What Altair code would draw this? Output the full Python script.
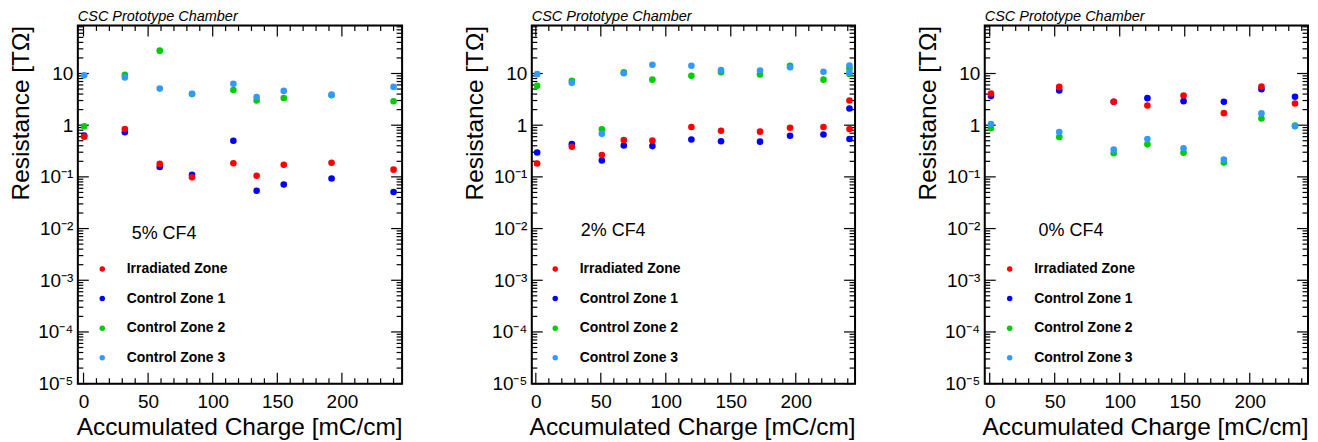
import altair as alt
import pandas as pd

FONT = "Liberation Sans"

zones = ["Irradiated Zone", "Control Zone 1", "Control Zone 2", "Control Zone 3"]
zone_colors = ["#ff0000", "#0000ff", "#00cc00", "#3399ff"]
draw_order = ["Control Zone 1", "Irradiated Zone", "Control Zone 2", "Control Zone 3"]

# ---- 5% CF4 ----
charge_5 = [0.5, 32, 59, 84, 116, 134, 155, 192, 240]
irr_5 = [0.60, 0.84, 0.178, 0.098, 0.183, 0.105, 0.172, 0.188, 0.138]
cz1_5 = [0.63, 0.73, 0.155, 0.11, 0.50, 0.054, 0.071, 0.093, 0.051]
cz2_5 = [0.95, 9.4, 27.7, 4.0, 4.8, 3.0, 3.35, 3.8, 2.9]
cz3_5 = [9.2, 8.4, 5.1, 4.05, 6.3, 3.5, 4.6, 3.9, 5.5]

# ---- 2% CF4 ----
charge_2 = [1.0, 27.7, 50.8, 67.7, 89.7, 119.7, 142.5, 172.5, 195.6, 221.3, 241.3, 241.3]
irr_2 = [0.181, 0.383, 0.264, 0.516, 0.507, 0.92, 0.78, 0.75, 0.89, 0.92, 3.0, 0.84]
cz1_2 = [0.297, 0.43, 0.207, 0.405, 0.394, 0.53, 0.49, 0.48, 0.625, 0.66, 2.1, 0.54]
cz2_2 = [5.8, 7.2, 0.83, 10.5, 7.6, 9.0, 10.6, 9.6, 14.1, 7.6, 12.7, 9.8]
cz3_2 = [9.7, 6.6, 0.68, 10.1, 14.8, 14.1, 11.6, 11.4, 13.2, 10.8, 14.3, 10.5]

# ---- 0% CF4 ----
charge_0 = [1.0, 53.5, 95.4, 121.3, 149.1, 180.1, 209.0, 234.8]
irr_0 = [4.1, 5.5, 2.84, 2.4, 3.76, 1.71, 5.6, 2.63]
cz1_0 = [3.65, 4.7, 2.84, 3.33, 2.92, 2.84, 4.98, 3.55]
cz2_0 = [0.87, 0.59, 0.286, 0.426, 0.294, 0.189, 1.35, 0.98]
cz3_0 = [1.05, 0.74, 0.336, 0.54, 0.357, 0.216, 1.69, 0.95]

panel_labels = ["5% CF4", "2% CF4", "0% CF4"]
label_x = [37.3, 34.6, 37.6]
label_y = [0.0062, 0.0072, 0.0072]
x_domains = [[-4.4, 246.6], [-3.1, 245.6], [-3.8, 244.8]]
panel_widths = [325, 324, 324]
legend_x = [17.5, 16.5, 18.0]

Y_DOMAIN = [1e-5, 85]
y_major = [1e-5, 1e-4, 1e-3, 1e-2, 1e-1, 1, 10]
y_major_labels = ["10⁻⁵", "10⁻⁴", "10⁻³", "10⁻²", "10⁻¹", "1", "10"]
decades = [1e-5, 1e-4, 1e-3, 1e-2, 1e-1, 1, 10]
minor_k = [2, 3, 4, 5, 6, 7, 8, 9]
y_minor = [k * d for d in decades for k in minor_k if k * d <= 85]
x_major = [0, 50, 100, 150, 200]
x_minor = [10, 20, 30, 40, 60, 70, 80, 90, 110, 120, 130, 140, 160, 170, 180, 190, 210, 220, 230, 240]

H = 359
MAJ = 11
MIN = 5.5

series = [
    {"Irradiated Zone": irr_5, "Control Zone 1": cz1_5, "Control Zone 2": cz2_5, "Control Zone 3": cz3_5},
    {"Irradiated Zone": irr_2, "Control Zone 1": cz1_2, "Control Zone 2": cz2_2, "Control Zone 3": cz3_2},
    {"Irradiated Zone": irr_0, "Control Zone 1": cz1_0, "Control Zone 2": cz2_0, "Control Zone 3": cz3_0},
]
charges = [charge_5, charge_2, charge_0]

label_js = "[" + ",".join("'" + s + "'" for s in y_major_labels) + "]"


def make_panel(i):
    W = panel_widths[i]
    rows = []
    for oi, z in enumerate(draw_order):
        for xv, yv in zip(charges[i], series[i][z]):
            rows.append({"charge": xv, "R": yv, "zone": z, "ord": oi})
    df = pd.DataFrame(rows)

    xs = alt.Scale(domain=x_domains[i], nice=False, zero=False)
    ys = alt.Scale(type="log", domain=Y_DOMAIN, nice=False)
    xaxis = alt.Axis(
        values=x_major, domain=False, ticks=False, grid=False,
        labelFont=FONT, labelFontSize=19, labelColor="black", labelPadding=9,
        labelFlush=False, labelOverlap=False,
        title="Accumulated Charge [mC/cm]", titleFont=FONT, titleFontSize=24.5,
        titleFontWeight="normal", titleColor="black",
        titleX=W, titleY=51, titleAlign="right", titleBaseline="alphabetic",
    )
    yaxis = alt.Axis(
        values=y_major, domain=False, ticks=False, grid=False,
        labelExpr=label_js + "[round(log(datum.value)/LN10)+5]",
        labelFont=FONT, labelFontSize=19, labelColor="black", labelPadding=5,
        labelFlush=False, labelOverlap=False,
        title="Resistance [TΩ]", titleFont=FONT, titleFontSize=24.5,
        titleFontWeight="normal", titleColor="black",
        titleX=-44, titleY=0, titleAngle=270, titleAlign="right", titleBaseline="bottom",
    )

    pts = alt.Chart(df).mark_circle(size=44, opacity=1).encode(
        x=alt.X("charge:Q", scale=xs, axis=xaxis),
        y=alt.Y("R:Q", scale=ys, axis=yaxis),
        color=alt.Color(
            "zone:N",
            scale=alt.Scale(domain=zones, range=zone_colors),
            title=None,
            legend=alt.Legend(
                orient="none", legendX=legend_x[i], legendY=237, padding=0,
                symbolType="circle", symbolSize=30, symbolOpacity=1, symbolStrokeWidth=0,
                labelFont=FONT, labelFontSize=14, labelFontWeight="bold", labelColor="black",
                labelOffset=17.5, rowPadding=15.7,
            ),
        ),
        order=alt.Order("ord:Q"),
    )

    xmaj = pd.DataFrame({"v": x_major})
    xmin = pd.DataFrame({"v": x_minor})
    ymaj = pd.DataFrame({"v": y_major})
    ymin = pd.DataFrame({"v": y_minor})

    def xt(d, y0, y1):
        return alt.Chart(d).mark_rule(color="black", strokeWidth=1.2).encode(
            x=alt.X("v:Q", scale=xs, axis=xaxis),
            y=alt.value(y0), y2=alt.value(y1))

    def yt(d, x0, x1):
        return alt.Chart(d).mark_rule(color="black", strokeWidth=1.2).encode(
            y=alt.Y("v:Q", scale=ys, axis=yaxis),
            x=alt.value(x0), x2=alt.value(x1))

    ticks = [
        xt(xmaj, H, H - MAJ), xt(xmin, H, H - MIN), xt(xmaj, 0, MAJ), xt(xmin, 0, MIN),
        yt(ymaj, 0, MAJ), yt(ymin, 0, MIN), yt(ymaj, W, W - MAJ), yt(ymin, W, W - MIN),
    ]

    frame = alt.Chart(pd.DataFrame({"f": [0]})).mark_rect(
        fillOpacity=0, stroke="black", strokeWidth=2).encode(
        x=alt.value(0), x2=alt.value(W), y=alt.value(0), y2=alt.value(H))

    ann = pd.DataFrame({"x": [label_x[i]], "y": [label_y[i]], "t": [panel_labels[i]]})
    txt = alt.Chart(ann).mark_text(align="left", baseline="alphabetic", font=FONT,
                                   fontSize=18, color="black").encode(
        x=alt.X("x:Q", scale=xs, axis=xaxis),
        y=alt.Y("y:Q", scale=ys, axis=yaxis),
        text="t:N")

    return alt.layer(frame, *ticks, txt, pts).properties(
        width=W, height=H,
        title=alt.Title("CSC Prototype Chamber", anchor="start", frame="group",
                        font=FONT, fontSize=14.5, fontStyle="italic", fontWeight="normal",
                        color="black", offset=-11, baseline="alphabetic"),
    )


chart = alt.hconcat(make_panel(0), make_panel(1), make_panel(2), spacing=130, bounds="flush") \
    .resolve_scale(color="independent", x="independent", y="independent") \
    .resolve_legend(color="independent") \
    .properties(padding=0, background="white") \
    .configure_view(stroke="black", strokeWidth=2) \
    .configure(font=FONT)

chart.save("out.html", embed_options={"renderer": "svg", "actions": False})
